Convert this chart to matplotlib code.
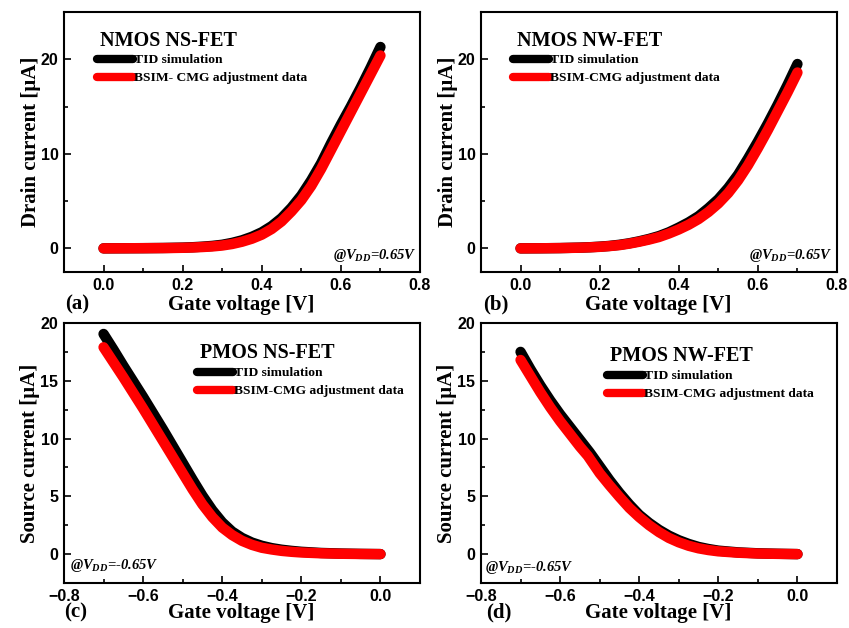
import matplotlib
matplotlib.use("Agg")
import matplotlib.pyplot as plt
from matplotlib.ticker import MultipleLocator

# ---------------- data ----------------
vg_n = [0.0, 0.05, 0.1, 0.15, 0.175, 0.2, 0.225, 0.25, 0.275, 0.3, 0.325, 0.35, 0.375,
        0.4, 0.425, 0.45, 0.475, 0.5, 0.525, 0.55, 0.575, 0.6, 0.625, 0.65, 0.675, 0.7]
ns_n_tid = [0.0, 0.01, 0.02, 0.04, 0.06, 0.08, 0.12, 0.18, 0.26, 0.38, 0.58, 0.85, 1.22,
            1.7, 2.35, 3.2, 4.3, 5.6, 7.2, 9.0, 11.1, 13.1, 15.0, 17.0, 19.1, 21.3]
ns_n_bsim = [0.0, 0.01, 0.02, 0.03, 0.04, 0.06, 0.09, 0.14, 0.2, 0.3, 0.46, 0.7, 1.02,
             1.45, 2.05, 2.85, 3.9, 5.1, 6.6, 8.4, 10.4, 12.4, 14.4, 16.4, 18.4, 20.4]
nw_n_tid = [0.0, 0.01, 0.03, 0.08, 0.12, 0.18, 0.26, 0.38, 0.54, 0.75, 1.0, 1.3, 1.7,
            2.2, 2.75, 3.4, 4.25, 5.2, 6.4, 7.8, 9.5, 11.3, 13.2, 15.2, 17.3, 19.5]
nw_n_bsim = [0.0, 0.01, 0.03, 0.07, 0.11, 0.16, 0.24, 0.34, 0.5, 0.7, 0.93, 1.2, 1.57,
             2.0, 2.5, 3.1, 3.85, 4.75, 5.85, 7.2, 8.8, 10.6, 12.5, 14.5, 16.5, 18.6]

vg_p = [-0.7, -0.675, -0.65, -0.625, -0.6, -0.575, -0.55, -0.525, -0.5, -0.475, -0.45,
        -0.425, -0.4, -0.375, -0.35, -0.325, -0.3, -0.275, -0.25, -0.225, -0.2, -0.15,
        -0.1, -0.05, 0.0]
ns_p_tid = [19.05, 17.7, 16.3, 14.95, 13.6, 12.2, 10.8, 9.35, 7.9, 6.45, 5.05,
            3.8, 2.75, 1.95, 1.4, 1.0, 0.72, 0.52, 0.38, 0.28, 0.2, 0.1,
            0.05, 0.02, 0.0]
ns_p_bsim = [17.9, 16.6, 15.3, 13.95, 12.6, 11.2, 9.8, 8.4, 7.0, 5.6, 4.3,
             3.2, 2.3, 1.65, 1.15, 0.8, 0.55, 0.4, 0.28, 0.2, 0.14, 0.07,
             0.03, 0.01, 0.0]
nw_p_tid = [17.5, 16.0, 14.6, 13.3, 12.1, 11.0, 9.9, 8.8, 7.6, 6.4, 5.3,
            4.3, 3.4, 2.7, 2.1, 1.6, 1.2, 0.88, 0.62, 0.44, 0.3, 0.15,
            0.07, 0.03, 0.0]
vg_p_nw_bsim = [-0.7, -0.675, -0.65, -0.625, -0.6, -0.575, -0.55, -0.53, -0.51, -0.5,
                -0.475, -0.45, -0.425, -0.4, -0.375, -0.35, -0.325, -0.3, -0.275, -0.25,
                -0.225, -0.2, -0.15, -0.1, -0.05, 0.0]
nw_p_bsim = [16.8, 15.4, 14.0, 12.7, 11.5, 10.4, 9.3, 8.5, 7.5, 7.0,
             5.95, 4.95, 4.0, 3.2, 2.5, 1.9, 1.4, 1.02, 0.72, 0.5,
             0.35, 0.24, 0.12, 0.05, 0.02, 0.0]

titles = ["NMOS NS-FET", "NMOS NW-FET", "PMOS NS-FET", "PMOS NW-FET"]
bsim_labels = ["BSIM- CMG adjustment data", "BSIM-CMG adjustment data",
               "BSIM-CMG adjustment data", "BSIM-CMG adjustment data"]
tid_label = "TID simulation"
panel_tags = ["(a)", "(b)", "(c)", "(d)"]
ylabels = ["Drain current [\u03bcA]", "Drain current [\u03bcA]",
           "Source current [\u03bcA]", "Source current [\u03bcA]"]
xlabel = "Gate voltage [V]"
vdd_n = r"@$V_{DD}$=0.65V"
vdd_p = r"@$V_{DD}$=-0.65V"

# ---------------- figure ----------------
W, H = 849, 628
plt.rcParams['mathtext.fontset'] = 'custom'
plt.rcParams['mathtext.it'] = 'Liberation Serif:italic:bold'
plt.rcParams['mathtext.bf'] = 'Liberation Serif:italic:bold'
plt.rcParams['mathtext.rm'] = 'Liberation Serif:italic:bold'
fig = plt.figure(figsize=(W / 100, H / 100), dpi=100)

SERIF = "Liberation Serif"
SANS = "Liberation Sans"

def fx(px):
    return px / W

def fy(py):
    return 1 - py / H

# axes pixel boxes: left, top, right, bottom
boxes = [(64, 12, 420, 272), (481, 12, 837, 272),
         (64, 323, 420, 583), (481, 323, 837, 583)]

datasets = [
    (vg_n, ns_n_tid, vg_n, ns_n_bsim),
    (vg_n, nw_n_tid, vg_n, nw_n_bsim),
    (vg_p, ns_p_tid, vg_p, ns_p_bsim),
    (vg_p, nw_p_tid, vg_p_nw_bsim, nw_p_bsim),
]

title_pos = [(100, 41), (517, 41), (200, 353), (610, 356)]
legend_pos = [(97, 54), (513, 54), (197, 367), (607, 370)]
vdd_pos = [(417, 255), (833, 255), (70, 565), (485, 567)]
tag_pos = [(65, 304), (483, 304), (64, 612), (486, 612)]
xlabel_pos = [(241, 305), (658, 305), (241, 613), (658, 613)]

for i in range(4):
    l, t, r, b = boxes[i]
    ax = fig.add_axes([fx(l), fy(b), (r - l) / W, (b - t) / H])
    x1, y1, x2, y2 = datasets[i]
    ax.plot(x1, y1, color='black', lw=7.5, solid_capstyle='round',
            solid_joinstyle='round', label=tid_label)
    ax.plot(x2, y2, color='red', lw=7.5, solid_capstyle='round',
            solid_joinstyle='round', label=bsim_labels[i])
    if i < 2:
        ax.set_xlim(-0.1, 0.8)
        ax.set_ylim(-2.5, 25)
        ax.yaxis.set_major_locator(MultipleLocator(10))
        ax.yaxis.set_minor_locator(MultipleLocator(5))
    else:
        ax.set_xlim(-0.8, 0.1)
        ax.set_ylim(-2.5, 20)
        ax.yaxis.set_major_locator(MultipleLocator(5))
        ax.yaxis.set_minor_locator(MultipleLocator(2.5))
    ax.xaxis.set_major_locator(MultipleLocator(0.2))
    ax.xaxis.set_minor_locator(MultipleLocator(0.1))
    ax.tick_params(which='both', direction='in', top=False, right=False,
                   width=1.2)
    ax.tick_params(which='major', length=5, pad=4)
    ax.tick_params(which='minor', length=3)
    for lab in ax.get_xticklabels() + ax.get_yticklabels():
        lab.set_fontfamily(SANS)
        lab.set_fontweight('bold')
        lab.set_fontsize(11.5)
    for sp in ax.spines.values():
        sp.set_linewidth(1.5)
    ax.set_ylabel(ylabels[i], fontfamily=SERIF, fontweight='bold', fontsize=15,
                  labelpad=0)

    # title
    tx, ty = title_pos[i]
    fig.text(fx(tx), fy(ty), titles[i], fontfamily=SERIF, fontweight='bold',
             fontsize=14.5, ha='left', va='center')
    # legend
    lx, ly = legend_pos[i]
    leg = ax.legend(loc='upper left', bbox_to_anchor=(fx(lx), fy(ly)),
                    bbox_transform=fig.transFigure, frameon=False,
                    prop={'family': SERIF, 'weight': 'bold', 'size': 9.7},
                    handlelength=2.7, handletextpad=0.05, labelspacing=0.4,
                    borderpad=0, borderaxespad=0)
    for h in leg.get_lines():
        h.set_linewidth(6)
        h.set_solid_capstyle('round')
    # VDD annotation
    vx, vy = vdd_pos[i]
    fig.text(fx(vx), fy(vy), vdd_n if i < 2 else vdd_p, fontfamily=SERIF,
             fontweight='bold', style='italic', fontsize=10.5,
             ha='right' if i < 2 else 'left', va='center')
    # panel tag
    px, py = tag_pos[i]
    fig.text(fx(px), fy(py), panel_tags[i], fontfamily=SERIF, fontweight='bold',
             fontsize=15, ha='left', va='center')
    # x label
    gx, gy = xlabel_pos[i]
    fig.text(fx(gx), fy(gy), xlabel, fontfamily=SERIF, fontweight='bold',
             fontsize=15, ha='center', va='center')

fig.savefig("out.png", dpi=100)
